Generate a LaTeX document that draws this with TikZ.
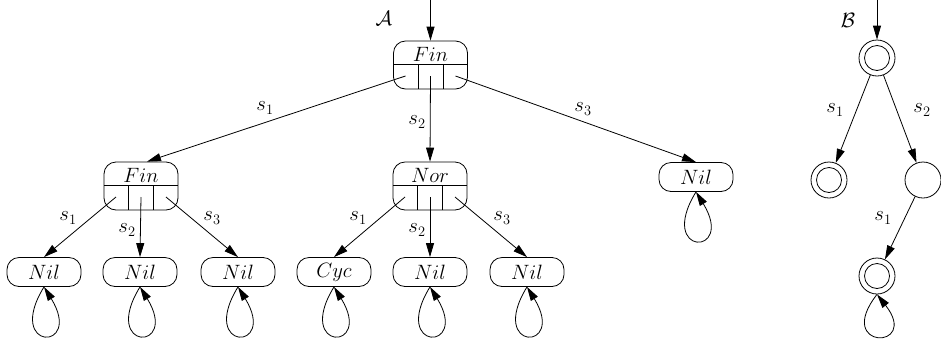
\documentclass[tikz,border=0pt]{standalone}
\usetikzlibrary{arrows.meta,calc}
\begin{document}
\begin{tikzpicture}[x=1pt,y=-1pt,
  font=\fontsize{20.74}{25}\selectfont, line width=0.8pt,
  arr/.style={-{Triangle[length=14pt,width=8pt]}},
  sbox/.style={draw, rounded corners=12pt, minimum width=74pt, minimum height=29pt, inner sep=0pt},
  cbox/.style={draw, rounded corners=12pt, minimum width=74pt, minimum height=48pt, inner sep=0pt},
  lbl/.style={inner sep=0pt},
  st/.style={draw, circle, minimum size=36pt, inner sep=0pt},
  acc/.style={st, path picture={\draw (path picture bounding box.center) circle (12.5pt);}}]
\useasboundingbox (0,0) rectangle (941,338);

% ---------- automaton A ----------
\node[cbox] (f0) at (430.5,65) {};
\node[lbl] (f0t) at ($(f0.center)+(0,-11)$) {$Fin$};
\node[cbox] (f1) at (141,186) {};
\node[lbl] (f1t) at ($(f1.center)+(0,-11)$) {$Fin$};
\node[cbox] (n1) at (430,186) {};
\node[lbl] (n1t) at ($(n1.center)+(0,-11)$) {$Nor$};
\node[sbox] (r1) at (696,177) {$Nil$};

\foreach \b in {f0,f1,n1}{
  \draw ($(\b.center)+(-37,-1)$) -- ($(\b.center)+(37,-1)$);
  \draw ($(\b.center)+(-12.5,-1)$) -- ($(\b.center)+(-12.5,24)$);
  \draw ($(\b.center)+(12.5,-1)$) -- ($(\b.center)+(12.5,24)$);
  \coordinate (\b a) at ($(\b.center)+(-25,11)$);
  \coordinate (\b b) at ($(\b.center)+(0,11)$);
  \coordinate (\b c) at ($(\b.center)+(25,11)$);
}

\node[sbox] (l1) at (44,272) {$Nil$};
\node[sbox] (l2) at (140,272) {$Nil$};
\node[sbox] (l3) at (238,272) {$Nil$};
\node[sbox] (l4) at (334,272) {$Cyc$};
\node[sbox] (l5) at (430,272) {$Nil$};
\node[sbox] (l6) at (527,272) {$Nil$};

\coordinate (ain) at (430.5,0);
\draw[arr] (ain) -- (f0.north);
\node[lbl] (alab) at (384,18) {$\mathcal{A}$};

\draw[arr] (f0a) -- ($(f1.north)+(6,0)$);
\draw[arr] (f0b) -- (n1.north);
\draw[arr] (f0c) -- (r1.north);
\node[lbl] (e1) at (265,108) {$s_1$};
\node[lbl] (e2) at (417,122) {$s_2$};
\node[lbl] (e3) at (583,109) {$s_3$};

\draw[arr] (f1a) -- (l1.north);
\draw[arr] (f1b) -- (l2.north);
\draw[arr] (f1c) -- (l3.north);
\node[lbl] (e4) at (68,218) {$s_1$};
\node[lbl] (e5) at (127,230) {$s_2$};
\node[lbl] (e6) at (212,218) {$s_3$};

\draw[arr] (n1a) -- (l4.north);
\draw[arr] (n1b) -- (l5.north);
\draw[arr] (n1c) -- (l6.north);
\node[lbl] (e7) at (358,218) {$s_1$};
\node[lbl] (e8) at (417,230) {$s_2$};
\node[lbl] (e9) at (502,218) {$s_3$};

\foreach \n in {r1,l1,l2,l3,l4,l5,l6}{
  \draw[arr] (\n.south) .. controls +(-40,65) and +(40,65) .. (\n.south);
}

% ---------- automaton B ----------
\node[acc] (b0) at (877,58) {};
\node[acc] (b1) at (829,180) {};
\node[st] (b2) at (923,180) {};
\node[acc] (b3) at (877,276) {};
\coordinate (bin) at (877,0);
\draw[arr] (bin) -- (b0);
\node[lbl] (blab) at (848,20) {$\mathcal{B}$};
\draw[arr] (b0) -- (b1);
\draw[arr] (b0) -- (b2);
\draw[arr] (b2) -- (b3);
\node[lbl] (e10) at (835,110) {$s_1$};
\node[lbl] (e11) at (922,110) {$s_2$};
\node[lbl] (e12) at (883,218) {$s_1$};
\draw[arr] (b3.south) .. controls +(-44,56) and +(44,56) .. (b3.south);
\end{tikzpicture}
\end{document}
